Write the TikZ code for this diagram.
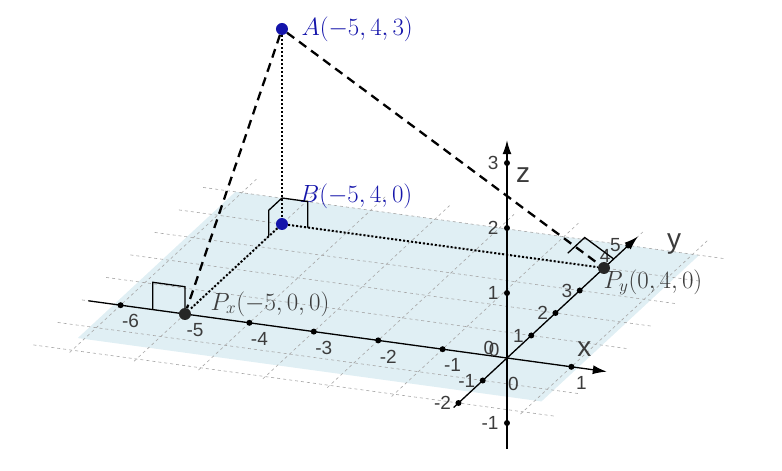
\documentclass[tikz,border=0pt]{standalone}
\usepackage{fontspec}
\newfontfamily\axf{Liberation Sans}
\usetikzlibrary{arrows.meta,positioning}
\definecolor{ptblue}{RGB}{20,20,170}
\definecolor{txtg}{RGB}{60,60,60}
\begin{document}
\begin{tikzpicture}[x={(64.4pt,-8.8pt)},y={(24.25pt,22.5pt)},z={(0pt,65pt)},
  axis/.style={line width=1.3pt,-{Latex[length=14pt,width=9pt]}},
  gridl/.style={gray!70,dashed,line width=0.6pt},
  tick/.style={circle,fill=black,inner sep=0pt,minimum size=6pt},
  lab/.style={font=\axf\fontsize{19}{19}\selectfont,text=txtg},
  big/.style={font=\axf\fontsize{28}{28}\selectfont,text=txtg},
  ptl/.style={font=\fontsize{26}{26}\selectfont},
  dashl/.style={line width=2.3pt,dash pattern=on 9pt off 6pt},
  dotl/.style={line width=2pt,dotted},
  ra/.style={line width=1.3pt},
  pt/.style={circle,fill=#1,inner sep=0pt,minimum size=12pt}]
\path[use as bounding box] (-507pt,-113pt) rectangle (275pt,358pt);
% plane
\fill[cyan!35!teal!13] (-6.1,-1.5,0) -- (1.1,-1.5,0) -- (1.1,5,0) -- (-6.1,5,0) -- cycle;
\foreach \i in {-6,...,1} \draw[gridl] (\i,-2.1,0) -- (\i,5.6,0);
\foreach \j in {-2,...,5} \draw[gridl] (-6.6,\j,0) -- (1.5,\j,0);
% axes
\coordinate (xs) at (-6.5,0,0); \coordinate (xe) at (1.55,0,0);
\coordinate (ys) at (0,-2.2,0); \coordinate (ye) at (0,5.4,0);
\coordinate (zs) at (0,0,-1.4); \coordinate (ze) at (0,0,3.35);
\draw[axis] (xs) -- (xe);
\draw[axis] (ys) -- (ye);
\draw[axis] (zs) -- (ze);
\node[big] (xlab) at (1.2,0,0.3) {x};
\node[big] (ylab) at (0.6,5.3,0) {y};
\node[big] (zlab) at (0.25,0,2.85) {z};
\foreach \i in {-6,...,-1,1} {\node[tick] at (\i,0,0) {}; \node[lab] at (\i,0,0) [below=6pt,xshift=10pt] {\i};}
\foreach \j in {-2,-1,1,2,3,5} {\node[tick] at (0,\j,0) {}; \node[lab] at (0,\j,0) [left=4pt] {\j};}
\node[lab] at (0,4,0) [above left=2pt and -10pt] {4};
\foreach \k in {-1,1,2,3} {\node[tick] at (0,0,\k) {}; \node[lab] at (0,0,\k) [left=5pt] {\k};}
\node[lab] at (-0.28,0,0.12) {0};
\node[lab] at (-0.22,0.05,0.08) {0};
\node[lab] at (0.1,0,-0.38) {0};
% points
\node[pt=ptblue] (A) at (-5,4,3) {};
\node[pt=ptblue] (B) at (-5,4,0) {};
\node[pt=black!85] (Px) at (-5,0,0) {};
\node[pt=black!85] (Py) at (0,4,0) {};
\node[right=16pt,text=ptblue,ptl] at (A) {$A(-5,4,3)$};
\node[above right=12pt and 14pt,text=ptblue,ptl] at (B) {$B(-5,4,0)$};
\node[above right=-6pt and 22pt,text=txtg,ptl] at (Px) {$P_x(-5,0,0)$};
\node[below right=-2pt and -4pt,text=txtg,ptl] at (Py) {$P_y(0,4,0)$};
\draw[dashl] (A) -- (Px);
\draw[dashl] (A) -- (Py);
\draw[dotl] (A) -- (B);
\draw[dotl] (B) -- (Px);
\draw[dotl] (B) -- (Py);
% right angle marks
\draw[ra] (-5.5,0,0) -- (-5.5,0,0.42) -- (-5,0,0.42) -- (Px);
\draw[ra] (-5,3.45,0) -- (-5,3.45,0.4) -- (-5,4,0.4);
\draw[ra] (-4.6,4,0) -- (-4.6,4,0.4) -- (-5,4,0.4);
\draw[ra] (-0.45,3.7,0.27) -- (-0.45,4.4,0.27) -- (0,4.4,0);
\end{tikzpicture}
\end{document}
